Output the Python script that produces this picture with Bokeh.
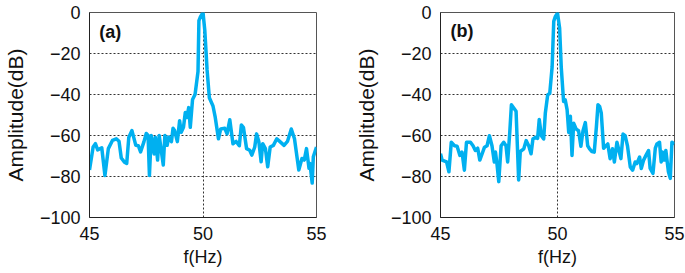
from bokeh.plotting import figure
from bokeh.layouts import row
from bokeh.models import FixedTicker, Label
from bokeh.embed import file_html
from bokeh.resources import INLINE

# Panel (a) spectrum
freq_a = [45.00, 45.16, 45.26, 45.36, 45.54, 45.68, 45.83, 46.01, 46.18, 46.30,
          46.40, 46.54, 46.64, 46.73, 46.87, 47.04, 47.15, 47.25, 47.40, 47.50,
          47.58, 47.64, 47.72, 47.85, 47.90, 48.00, 48.07, 48.25, 48.32, 48.42,
          48.49, 48.61, 48.68, 48.75, 48.87, 48.97, 49.04, 49.14, 49.22, 49.29,
          49.37, 49.44, 49.54, 49.65, 49.78, 49.82, 49.89, 50.00, 50.08, 50.18,
          50.28, 50.44, 50.54, 50.68, 50.78, 50.96, 51.06, 51.18, 51.32, 51.46,
          51.60, 51.69, 51.78, 51.92, 52.06, 52.15, 52.28, 52.36, 52.46, 52.56,
          52.63, 52.75, 52.85, 52.96, 53.10, 53.25, 53.39, 53.57, 53.72, 53.89,
          54.03, 54.22, 54.36, 54.46, 54.56, 54.67, 54.71, 54.81, 54.86, 55.00]
amp_a = [-76.8, -65.6, -64.0, -67.0, -66.0, -79.5, -66.4, -62.4, -61.6, -62.8,
         -71.0, -73.0, -73.6, -61.0, -57.6, -64.8, -65.0, -68.0, -63.0, -59.0,
         -60.0, -79.5, -60.0, -69.0, -60.8, -72.0, -60.0, -74.4, -60.0, -64.8,
         -60.8, -63.0, -56.5, -57.6, -63.0, -52.8, -58.4, -56.0, -48.8, -51.2,
         -46.4, -56.0, -42.4, -40.0, -28.8, -4.0, -2.0, 0.0, -8.8, -28.0,
         -41.6, -45.6, -51.2, -61.6, -56.8, -56.5, -59.2, -52.3, -64.0, -62.9,
         -65.0, -54.9, -56.0, -66.4, -67.2, -69.6, -65.6, -59.2, -63.0, -72.8,
         -64.0, -66.4, -75.2, -65.6, -64.8, -61.6, -63.0, -64.8, -62.9, -56.8,
         -61.6, -76.8, -71.2, -72.0, -66.4, -76.0, -73.6, -83.2, -70.4, -65.6]

# Panel (b) spectrum
freq_b = [45.00, 45.07, 45.26, 45.36, 45.46, 45.60, 45.71, 45.83, 45.92, 46.02,
          46.11, 46.28, 46.39, 46.49, 46.59, 46.68, 46.78, 46.88, 46.99, 47.09,
          47.20, 47.30, 47.35, 47.42, 47.49, 47.59, 47.70, 47.80, 47.87, 47.96,
          48.03, 48.13, 48.23, 48.34, 48.41, 48.56, 48.66, 48.77, 48.87, 48.95,
          49.05, 49.15, 49.22, 49.31, 49.41, 49.48, 49.58, 49.67, 49.77, 49.84,
          49.91, 50.00, 50.09, 50.16, 50.26, 50.33, 50.41, 50.48, 50.55, 50.62,
          50.69, 50.80, 50.90, 51.00, 51.09, 51.19, 51.29, 51.37, 51.47, 51.57,
          51.66, 51.73, 51.80, 51.87, 51.97, 52.07, 52.15, 52.25, 52.35, 52.43,
          52.54, 52.65, 52.71, 52.80, 52.89, 52.99, 53.11, 53.21, 53.32, 53.39,
          53.51, 53.58, 53.68, 53.78, 53.89, 53.96, 54.08, 54.18, 54.25, 54.36,
          54.43, 54.50, 54.56, 54.63, 54.74, 54.82, 54.89, 55.00]
amp_b = [-68.9, -72.0, -72.9, -77.7, -63.3, -65.0, -65.2, -69.7, -68.1, -76.9,
         -63.3, -63.3, -65.0, -67.3, -66.2, -72.0, -68.9, -65.7, -65.0, -60.1,
         -65.0, -72.9, -68.1, -74.5, -82.5, -65.0, -63.3, -65.0, -72.9, -58.5,
         -45.0, -46.6, -48.2, -81.7, -67.8, -66.5, -62.5, -65.0, -68.9, -61.7,
         -60.9, -61.4, -52.2, -60.1, -61.7, -49.0, -40.2, -39.4, -26.6, -4.3,
         -1.9, -0.3, -7.5, -26.6, -43.4, -42.6, -47.4, -58.5, -50.6, -69.7,
         -54.0, -56.9, -57.7, -65.2, -57.7, -53.7, -65.0, -66.5, -67.8, -68.1,
         -56.1, -45.0, -45.8, -49.0, -66.2, -65.0, -64.1, -71.3, -66.5, -72.9,
         -63.3, -68.4, -71.3, -59.3, -60.1, -65.0, -75.3, -76.9, -72.9, -73.7,
         -70.5, -76.1, -72.0, -69.7, -67.3, -76.1, -78.5, -66.2, -64.1, -63.3,
         -72.9, -68.1, -72.0, -67.3, -77.7, -80.9, -63.3, -64.1]

x_ticks = [45, 50, 55]
y_ticks = [0, -20, -40, -60, -80, -100]
panel_labels = ["(a)", "(b)"]

LINE_COLOR = "#00B0F0"
FONT = "Liberation Sans"


def make_panel(x, y, label, width, borders, label_y):
    left, right, top, bottom = borders
    p = figure(width=width, height=273, x_range=(45, 55), y_range=(-100, 0),
               output_backend="svg", toolbar_location=None,
               min_border_left=left, min_border_right=right,
               min_border_top=top, min_border_bottom=bottom)
    p.line(x, y, line_color=LINE_COLOR, line_width=3.5, line_join="round")

    p.xaxis.ticker = FixedTicker(ticks=x_ticks)
    p.yaxis.ticker = FixedTicker(ticks=y_ticks)
    for ax in (p.xaxis[0], p.yaxis[0]):
        ax.major_tick_out = 0
        ax.major_tick_in = 0
        ax.minor_tick_out = 0
        ax.minor_tick_in = 0
        ax.axis_line_color = "#222222"
        ax.axis_line_width = 1
        ax.major_label_text_font = FONT
        ax.major_label_text_font_size = "18px"
        ax.major_label_text_color = "#111111"
        ax.axis_label_text_font = FONT
        ax.axis_label_text_font_style = "normal"
        ax.axis_label_text_color = "#111111"
    p.xaxis.axis_label = "f(Hz)"
    p.xaxis.axis_label_text_font_size = "18px"
    p.xaxis.major_label_standoff = 9
    p.xaxis.axis_label_standoff = 4
    p.yaxis.axis_label = "Amplitude(dB)"
    p.yaxis.axis_label_text_font_size = "21px"
    p.yaxis.major_label_standoff = 9
    p.yaxis.axis_label_standoff = 10

    p.xgrid.grid_line_color = "#333333"
    p.xgrid.grid_line_dash = "2 2"
    p.xgrid.grid_line_width = 1
    p.ygrid.grid_line_color = "#333333"
    p.ygrid.grid_line_dash = "2 2"
    p.ygrid.grid_line_width = 1

    p.outline_line_color = "#555555"
    p.outline_line_width = 1
    p.outline_line_alpha = 1.0
    p.background_fill_color = "white"
    p.border_fill_color = "white"

    p.add_layout(Label(x=45.43, y=label_y, text=label, text_font=FONT,
                       text_font_style="bold", text_font_size="18px",
                       text_color="#111111", text_baseline="top",
                       text_align="left"))
    return p


pa = make_panel(freq_a, amp_a, panel_labels[0], 340, (82, 24, 8, 56), -4.6)
pb = make_panel(freq_b, amp_b, panel_labels[1], 345, (100, 11, 12, 53), -4.0)

layout = row(pa, pb, spacing=0)
open("out.html", "w").write(file_html(layout, INLINE))
